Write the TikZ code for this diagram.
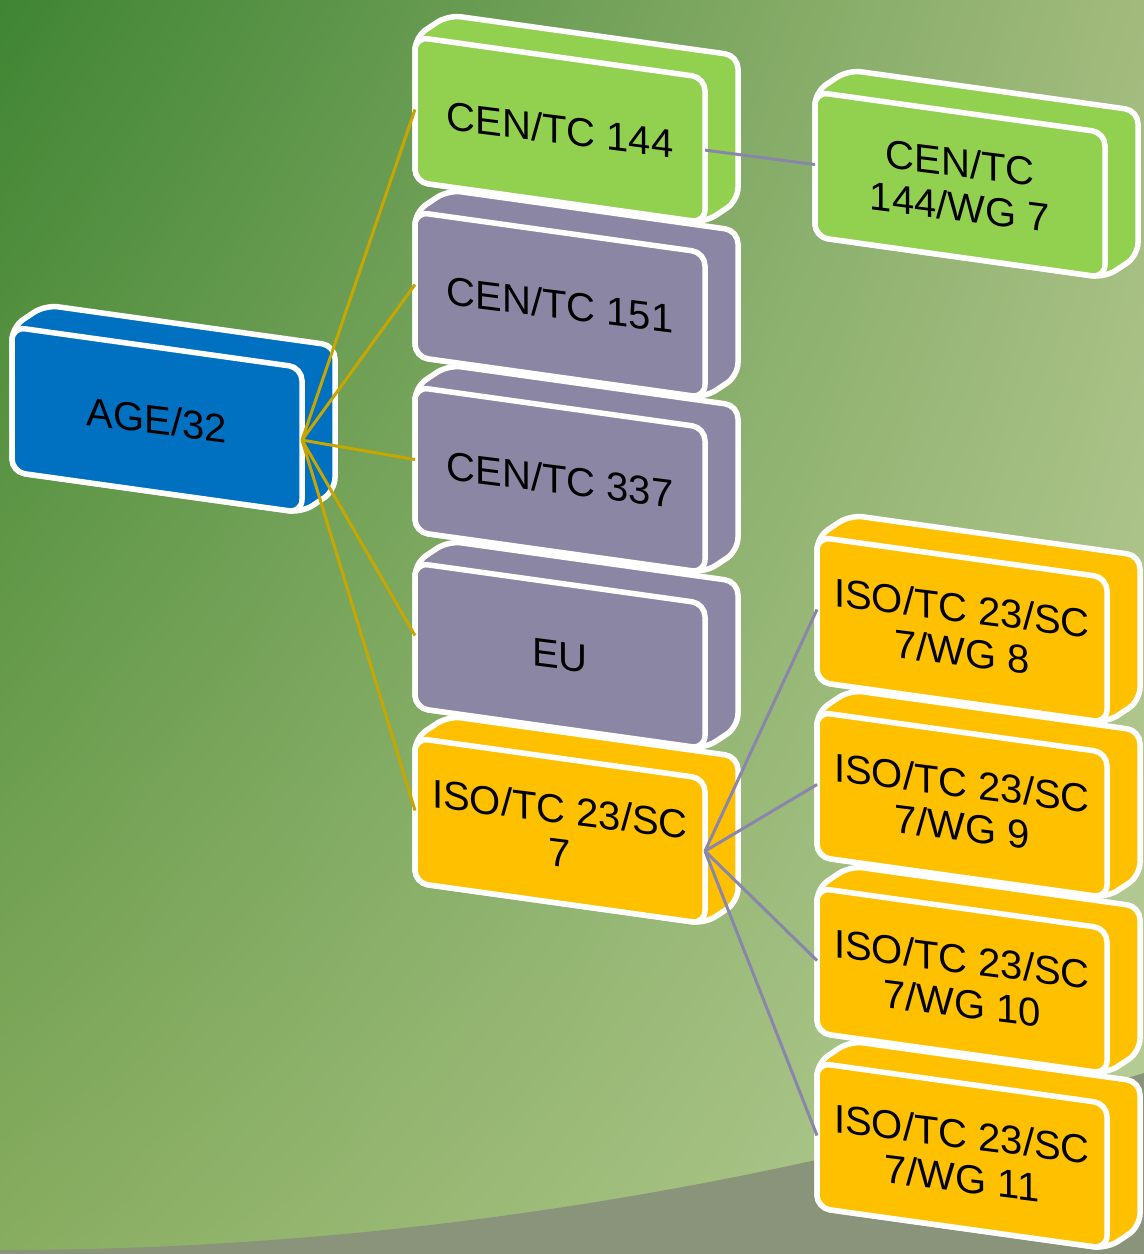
\documentclass[tikz,border=0pt]{standalone}
\usepackage{fontspec}
\setmainfont{Liberation Sans}
\usetikzlibrary{calc,shadings}
\pgfdeclarelayer{bglayer}
\pgfsetlayers{bglayer,main}

\definecolor{ageblue}{HTML}{0070C0}
\definecolor{cengreen}{HTML}{92D050}
\definecolor{purplegray}{HTML}{8B86A4}
\definecolor{isoorange}{HTML}{FFC000}
\definecolor{goldline}{HTML}{C8A600}
\definecolor{violetline}{HTML}{8A85AA}
\definecolor{bgul}{HTML}{3F8533}
\definecolor{bgur}{HTML}{A2BB7D}
\definecolor{bgll}{HTML}{88AD60}
\definecolor{bglr}{HTML}{B8CE98}
\definecolor{bggray}{HTML}{8A947A}

\tikzset{
  boxline/.style={draw=white, line width=5.5pt, rounded corners=13pt, line join=round},
  boxtext/.style={font=\fontsize{40}{44}\selectfont, align=center, text=black, yslant=-0.125, inner sep=0pt},
  goldconn/.style={draw=goldline, line width=3pt},
  violetconn/.style={draw=violetline, line width=3pt},
}

% name, x, y (top-left of front face), colour, text
\newcommand\tdbox[5]{%
  \path (#2,#3) coordinate (#1-tl) ++(290,40.6) coordinate (#1-tr)
        ++(0,145) coordinate (#1-br) ++(-290,-40.6) coordinate (#1-bl);
  \filldraw[boxline, fill=#4] (#1-tl) -- ($(#1-tl)+(33,-22)$) -- ($(#1-tr)+(33,-22)$)
     -- ($(#1-br)+(33,-22)$) -- (#1-br) -- (#1-bl) -- cycle;
  \filldraw[boxline, fill=#4] (#1-tl) -- (#1-tr) -- (#1-br) -- (#1-bl) -- cycle;
  \coordinate (#1-l) at ($(#1-tl)!0.5!(#1-bl)$);
  \coordinate (#1-r) at ($(#1-tr)!0.5!(#1-br)$);
  \node[boxtext] (#1) at ($(#1-tl)!0.5!(#1-br)$) {#5};
}

\begin{document}
\begin{tikzpicture}[x=1pt,y=-1pt]
\useasboundingbox (0,0) rectangle (1144,1254);
\begin{pgfonlayer}{bglayer}
  \shade[upper left=bgul, upper right=bgur, lower left=bgll, lower right=bglr]
    (0,0) rectangle (1144,1254);
  \fill[bggray] (0,1254) -- (0,1250) .. controls (381,1250) and (763,1191) .. (1144,1073)
    -- (1144,1254) -- cycle;
\end{pgfonlayer}

% left node
\tdbox{age}{12}{327}{ageblue}{AGE/32}

% middle column (bottom to top)
\tdbox{iso}{415}{738}{isoorange}{ISO/TC 23/SC\\7}
\tdbox{eu}{415}{563}{purplegray}{EU}
\tdbox{c337}{415}{387}{purplegray}{CEN/TC 337}
\tdbox{c151}{415}{212}{purplegray}{CEN/TC 151}
\tdbox{c144}{415}{37}{cengreen}{CEN/TC 144}

% right column (bottom to top)
\tdbox{wg11}{817}{1063}{isoorange}{ISO/TC 23/SC\\7/WG 11}
\tdbox{wg10}{817}{888}{isoorange}{ISO/TC 23/SC\\7/WG 10}
\tdbox{wg9}{817}{712}{isoorange}{ISO/TC 23/SC\\7/WG 9}
\tdbox{wg8}{817}{537}{isoorange}{ISO/TC 23/SC\\7/WG 8}
\tdbox{wg7}{815}{92}{cengreen}{CEN/TC\\144/WG 7}

% connectors (over the side faces, as in the reference)
\draw[goldconn] (age-r) -- (c144-l);
\draw[goldconn] (age-r) -- (c151-l);
\draw[goldconn] (age-r) -- (c337-l);
\draw[goldconn] (age-r) -- (eu-l);
\draw[goldconn] (age-r) -- (iso-l);
\draw[violetconn] (c144-r) -- (wg7-l);
\draw[violetconn] (iso-r) -- (wg8-l);
\draw[violetconn] (iso-r) -- (wg9-l);
\draw[violetconn] (iso-r) -- (wg10-l);
\draw[violetconn] (iso-r) -- (wg11-l);
\end{tikzpicture}
\end{document}
